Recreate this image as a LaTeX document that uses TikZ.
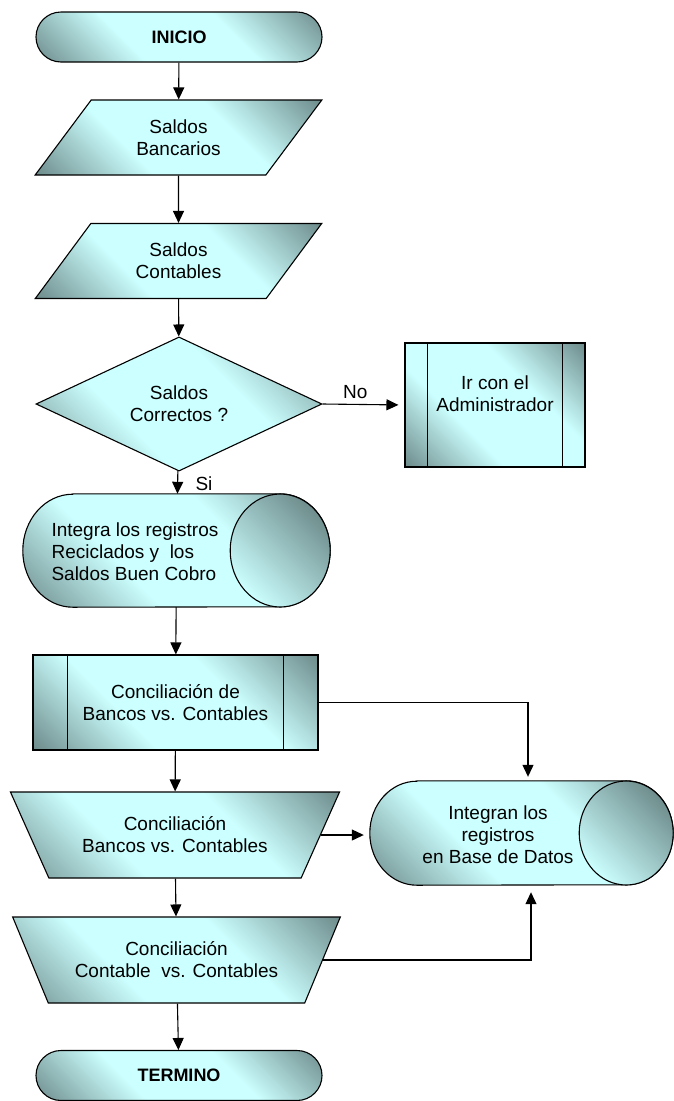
\documentclass[tikz,border=0pt]{standalone}
\usepackage{fontspec}
\setmainfont{Liberation Sans}
\usetikzlibrary{arrows.meta, shapes.geometric, shapes.misc}

\definecolor{celeste}{HTML}{CCFFFF}
\definecolor{grisazul}{HTML}{6F8D8D}
\pgfdeclareverticalshading{brillo}{100bp}{color(0bp)=(grisazul); color(15bp)=(grisazul); color(38bp)=(celeste); color(62bp)=(celeste); color(85bp)=(grisazul); color(100bp)=(grisazul)}

\tikzset{
	fondo/.style={draw=black, line width=1.1pt, shade, shading=brillo, shading angle=-45},
	tapa/.style={draw=black, line width=1.1pt, top color=grisazul, bottom color=celeste, shading angle=-45},
	texto/.style={font=\fontsize{19}{22}\selectfont, align=center},
	flecha/.style={line width=1.1pt, -{Triangle[length=12pt,width=11pt]}},
	terminal/.style={fondo, texto, rounded rectangle, minimum width=286pt, minimum height=50pt, inner sep=0pt, font=\fontsize{18}{22}\selectfont\bfseries},
	entrada/.style={fondo, texto, trapezium, trapezium left angle=53, trapezium right angle=127, trapezium stretches=true, minimum width=287pt, minimum height=75pt, inner sep=0pt},
	manual/.style={fondo, texto, trapezium, trapezium left angle=128, trapezium right angle=128, trapezium stretches=true, minimum height=86pt, inner sep=0pt},
	decision/.style={fondo, texto, diamond, minimum width=286pt, minimum height=112pt, inner sep=0pt},
	proceso/.style={fondo, texto, rectangle, inner sep=0pt},
	base/.style={rectangle, inner sep=0pt}
}

\begin{document}
\begin{tikzpicture}[x=1pt, y=1pt]
		\useasboundingbox (0,0) rectangle (673,-1101);
		% columna principal
		\node[terminal] (inicio) at (179,-37) {INICIO};
		\node[entrada] (bancarios) at (178.5,-137.5) {Saldos\\Bancarios};
		\node[entrada] (contables) at (178.5,-261) {Saldos\\Contables};
		\node[decision] (correctos) at (179,-404) {Saldos\\Correctos ?};
		\node[proceso, minimum width=180pt, minimum height=124pt] (admin) at (495,-405) {};
		\node[base, minimum width=307pt, minimum height=113pt] (reciclados) at (176.5,-550.5) {};
		\node[proceso, minimum width=285pt, minimum height=95pt] (concil) at (175.5,-702.5) {Conciliación de\\Bancos vs. Contables};
		\node[manual, minimum width=330pt] (bancos) at (175,-835) {Conciliación\\Bancos vs. Contables};
		\node[base, minimum width=303pt, minimum height=104pt] (datos) at (521.5,-833) {};
		\node[manual, minimum width=329pt] (contable) at (176.5,-960) {Conciliación\\Contable~~vs. Contables};
		\node[terminal] (termino) at (179,-1075.5) {TERMINO};
		% cilindros
		\foreach \n/\rx/\ry in {reciclados/50/56.5, datos/47/52}
			{
				\path[fondo] ([xshift=\rx]\n.north west) -- ([xshift=-\rx]\n.north east)
					arc[start angle=90, end angle=-90, x radius=\rx, y radius=\ry]
					-- ([xshift=\rx]\n.south west)
					arc[start angle=270, end angle=90, x radius=\rx, y radius=\ry] -- cycle;
				\path[tapa] ([xshift=-\rx]\n.east) ellipse[x radius=\rx, y radius=\ry];
			}
		% lineas laterales de proceso
		\foreach \n/\d in {admin/23, concil/35}
			{
				\draw[line width=1.1pt] ([xshift=\d]\n.north west) -- ([xshift=\d]\n.south west);
				\draw[line width=1.1pt] ([xshift=-\d]\n.north east) -- ([xshift=-\d]\n.south east);
			}
		% textos
		\node[texto] (admintxt) at ([yshift=11]admin.center) {Ir con el\\Administrador};
		\node[texto, align=left, anchor=west] (recictxt) at (48,-552) {Integra los registros\\Reciclados y~~los\\Saldos Buen Cobro};
		\node[texto] (datostxt) at (498,-835) {Integran los\\registros\\en Base de Datos};
		% flechas
		\draw[flecha] (inicio) -- (bancarios);
		\draw[flecha] (bancarios) -- (contables);
		\draw[flecha] (contables) -- (correctos);
		\draw[flecha, shorten >=6pt] (correctos.east) -- node[texto, pos=0.4, above=2pt] (no) {No} (admin.west);
		\draw[flecha] (correctos) -- node[texto, pos=0.55, right=14pt] (si) {Si} (reciclados);
		\draw[flecha] (reciclados) -- (concil);
		\draw[flecha] (concil) -- (bancos);
		\draw[flecha] (bancos) -- (contable);
		\draw[flecha] (contable) -- (termino);
		\draw[flecha, shorten >=4pt] (concil.east) -| ([xshift=6.5]datos.north);
		\draw[flecha, shorten >=6pt] (bancos.right side) -- (bancos.right side -| datos.west);
		\draw[flecha, shorten >=7pt] (contable.right side) -| ([xshift=9.5]datos.south);
	\end{tikzpicture}
\end{document}
